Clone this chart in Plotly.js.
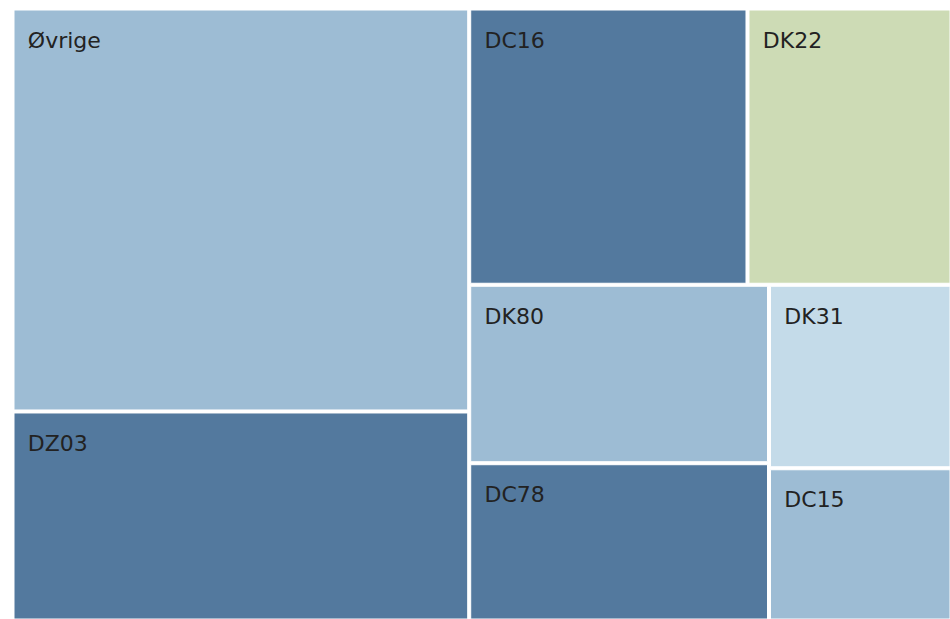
<!DOCTYPE html>
<html>
<head>
<meta charset="utf-8">
<script src="https://cdn.plot.ly/plotly-3.0.1.min.js"></script>
<style>html,body{margin:0;padding:0;background:#fff;}#chart{width:950px;height:619px;}</style>
</head>
<body>
<div id="chart"></div>
<script>
const labels = ["Øvrige", "DZ03", "DC16", "DK22", "DK80", "DC78", "DK31", "DC15"];
const values = [182054, 94432, 76046, 55748, 52923, 46644, 33124, 27482];
const colors = ["#9dbcd4", "#53799e", "#53799e", "#cddbb5", "#9dbcd4", "#53799e", "#c4dbe9", "#9dbcd4"];
const parents = labels.map(() => "");

Plotly.newPlot("chart", [{
  type: "treemap",
  labels: labels,
  parents: parents,
  values: values,
  textinfo: "label",
  texttemplate: "<span style='font-size:6px'>\u00a0</span><br><span style='font-size:34px'>\u00a0</span>%{label}",
  textposition: "top left",
  textfont: {family: "DejaVu Sans, Verdana, sans-serif", size: 22, color: "#222222"},
  marker: {colors: colors, line: {color: "#ffffff", width: 1}, pad: {t: 0, l: 0, r: 0, b: 0}},
  tiling: {packing: "squarify", squarifyratio: 1.618},
  pathbar: {visible: false},
  hoverinfo: "label+value"
}], {
  width: 950, height: 619,
  margin: {l: 14, r: 0, t: 10, b: 0},
  paper_bgcolor: "#ffffff",
  showlegend: false
}, {displayModeBar: false});
</script>
</body>
</html>
